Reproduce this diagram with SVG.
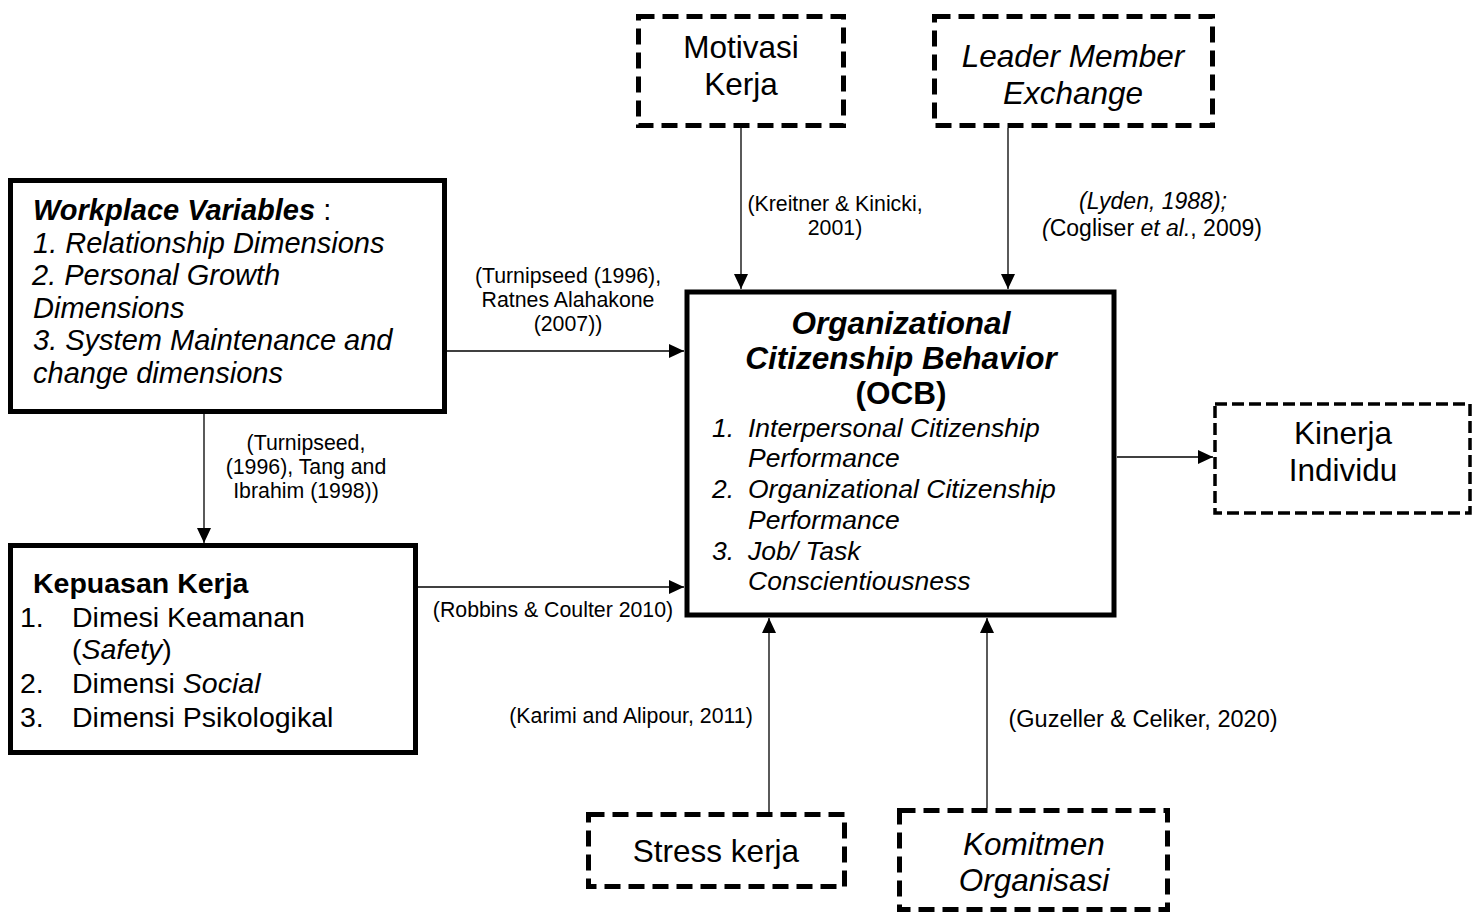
<svg xmlns="http://www.w3.org/2000/svg" width="1483" height="915" viewBox="0 0 1483 915">
<defs>
<style>
.t{font-family:"Liberation Sans",Arial,sans-serif;fill:#000}
.solid{fill:#fff;stroke:#000;stroke-width:5}
.dash{fill:#fff;stroke:#000;stroke-width:5;stroke-dasharray:16 8}
.dash2{fill:#fff;stroke:#000;stroke-width:3.5;stroke-dasharray:12 5}
.conn{stroke:#000;stroke-width:1.3;fill:none}
.lbl{font-size:21.3px}
.lbl2{font-size:23px}
.box{font-size:31.5px}
.i{font-style:italic}
.b{font-weight:bold}
</style>
<marker id="arr" markerWidth="15" markerHeight="14" refX="15" refY="7" orient="auto" markerUnits="userSpaceOnUse">
<path d="M0,0 L15,7 L0,14 z" fill="#000"/>
</marker>
</defs>
<rect width="1483" height="915" fill="#fff"/>

<g id="connectors">
<line class="conn" x1="741" y1="128" x2="741" y2="289" marker-end="url(#arr)"/>
<line class="conn" x1="1008" y1="128" x2="1008" y2="289" marker-end="url(#arr)"/>
<line class="conn" x1="447" y1="351" x2="684" y2="351" marker-end="url(#arr)"/>
<line class="conn" x1="204" y1="414" x2="204" y2="543" marker-end="url(#arr)"/>
<line class="conn" x1="418" y1="587" x2="684" y2="587" marker-end="url(#arr)"/>
<line class="conn" x1="1117" y1="457" x2="1213" y2="457" marker-end="url(#arr)"/>
<line class="conn" x1="769" y1="812" x2="769" y2="618" marker-end="url(#arr)"/>
<line class="conn" x1="987" y1="808" x2="987" y2="618" marker-end="url(#arr)"/>
<g class="t lbl" text-anchor="middle">
<text x="835" y="211">(Kreitner &amp; Kinicki,</text>
<text x="835" y="235">2001)</text>
<text x="568" y="283">(Turnipseed (1996),</text>
<text x="568" y="307">Ratnes Alahakone</text>
<text x="568" y="331">(2007))</text>
<text x="306" y="450">(Turnipseed,</text>
<text x="306" y="474">(1996), Tang and</text>
<text x="306" y="498">Ibrahim (1998))</text>
<text x="553" y="617">(Robbins &amp; Coulter 2010)</text>
<text x="631" y="723">(Karimi and Alipour, 2011)</text>
</g>
<g class="t lbl2" text-anchor="middle">
<text x="1153" y="209" class="i">(Lyden, 1988);</text>
<text x="1152" y="236"><tspan class="i">(</tspan>Cogliser <tspan class="i">et al.</tspan>, 2009)</text>
<text x="1143" y="727" font-size="23.5">(Guzeller &amp; Celiker, 2020)</text>
</g>
</g>

<g id="motivasi">
<rect class="dash" x="638.5" y="16.5" width="205" height="109"/>
<text class="t box" text-anchor="middle" x="741" y="58">Motivasi</text>
<text class="t box" text-anchor="middle" x="741" y="95">Kerja</text>
</g>

<g id="lme">
<rect class="dash" x="934.5" y="16.5" width="278" height="109"/>
<text class="t box i" text-anchor="middle" x="1073" y="67">Leader Member</text>
<text class="t box i" text-anchor="middle" x="1073" y="104">Exchange</text>
</g>

<g id="workplace">
<rect class="solid" x="10.5" y="180.5" width="434" height="231"/>
<g class="t" font-size="29">
<text x="33" y="220"><tspan class="b i">Workplace Variables</tspan> :</text>
<text x="33" y="253" class="i">1. Relationship Dimensions</text>
<text x="32" y="285" class="i">2. Personal Growth</text>
<text x="33" y="318" class="i">Dimensions</text>
<text x="33" y="350" class="i">3. System Maintenance and</text>
<text x="33" y="383" class="i">change dimensions</text>
</g>
</g>

<g id="kepuasan">
<rect class="solid" x="10.5" y="545.5" width="405" height="207"/>
<g class="t" font-size="28.5">
<text x="33" y="593" class="b">Kepuasan Kerja</text>
<text x="20" y="627">1.</text>
<text x="72" y="627">Dimesi Keamanan</text>
<text x="72" y="659">(<tspan class="i">Safety</tspan>)</text>
<text x="20" y="693">2.</text>
<text x="72" y="693">Dimensi <tspan class="i">Social</tspan></text>
<text x="20" y="727">3.</text>
<text x="72" y="727">Dimensi Psikologikal</text>
</g>
</g>

<g id="ocb">
<rect class="solid" x="687" y="292" width="427" height="323" stroke-width="6"/>
<g class="t b" font-size="31.5" text-anchor="middle">
<text x="901" y="334" class="i">Organizational</text>
<text x="901" y="369" class="i">Citizenship Behavior</text>
<text x="901" y="404">(OCB)</text>
</g>
<g class="t i" font-size="26.5">
<text x="712" y="437">1.</text>
<text x="748" y="437">Interpersonal Citizenship</text>
<text x="748" y="467">Performance</text>
<text x="712" y="498">2.</text>
<text x="748" y="498">Organizational Citizenship</text>
<text x="748" y="529">Performance</text>
<text x="712" y="560">3.</text>
<text x="748" y="560">Job/ Task</text>
<text x="748" y="590">Conscientiousness</text>
</g>
</g>

<g id="kinerja">
<rect class="dash2" x="1215" y="404" width="255" height="109"/>
<text class="t box" text-anchor="middle" x="1343" y="444">Kinerja</text>
<text class="t box" text-anchor="middle" x="1343" y="481">Individu</text>
</g>

<g id="stress">
<rect class="dash" x="588.5" y="814.5" width="256" height="72"/>
<text class="t box" text-anchor="middle" x="716" y="862">Stress kerja</text>
</g>

<g id="komitmen">
<rect class="dash" x="899.5" y="810.5" width="268" height="99"/>
<text class="t box i" text-anchor="middle" x="1034" y="855">Komitmen</text>
<text class="t box i" text-anchor="middle" x="1034" y="891">Organisasi</text>
</g>
</svg>
